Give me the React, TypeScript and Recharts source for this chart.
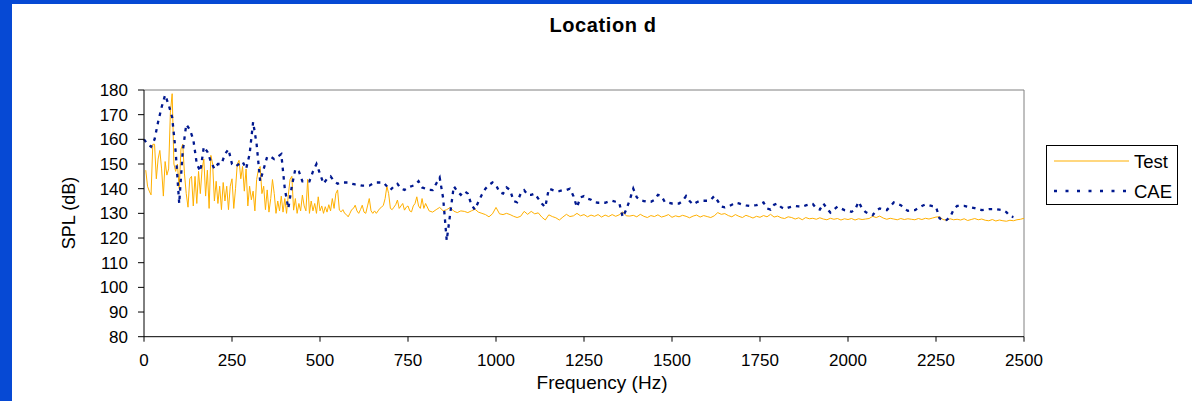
import { LineChart, Line, XAxis, YAxis, ReferenceLine } from 'recharts';

// Test: 5 Hz steps from 5 to 800 Hz, then 10 Hz steps from 810 to 2500 Hz
const testLow = [
    147.5, 141, 139, 137.5, 158, 158, 144, 152, 155.5, 148,
    137, 151, 145.5, 148, 171, 178.5, 150, 147, 150, 140,
    156, 158, 146, 138, 132.5, 144, 145, 133, 145, 134,
    147, 138, 148, 152, 137, 147.5, 132, 153.5, 150, 135,
    143, 134, 141, 131.5, 142.5, 135, 141, 131.5, 141, 144,
    132, 140, 150, 151.5, 144, 149, 139, 148, 133, 141,
    135.5, 139, 131, 143.7, 147.7, 149, 138, 141, 131.5, 139.5,
    130.5, 136, 143.7, 138, 130, 135, 131, 137, 130.5, 136,
    130, 137.5, 143.8, 145, 131.3, 136, 130, 134, 131, 137.4,
    133, 131, 143.8, 130, 135, 131, 134, 130, 136.7, 131,
    133, 130, 132.7, 130.5, 133.5, 131, 136, 132, 138, 139.5,
    131.3, 130.6, 131.5, 130, 129.5, 128.6, 130, 131.5, 132, 133.3,
    131, 130, 131.5, 133.3, 130.5, 130, 133, 136, 131, 130,
    131, 130, 131, 132, 132.5, 133.3, 136, 141, 138, 132,
    131.5, 132.5, 133.5, 135.4, 132, 133, 134, 131.3, 132.5, 133,
    131, 130.6, 133, 134, 136.7, 133, 132, 136, 132, 134,
];
const testHigh = [
    131, 130.5, 131.5, 132.4, 131, 131.5, 132.4, 130.9, 130.3, 131,
    130.8, 130.3, 131, 131.7, 130.5, 130, 129.5, 128.6, 129.8, 132.4,
    129.8, 129.5, 130, 129.5, 128.8, 128.3, 128.8, 130.8, 129.6, 130.8,
    129.8, 130.2, 128.5, 127.3, 129.4, 128.7, 128.2, 127.3, 128.5, 129.6,
    128.7, 129, 130, 129, 129.5, 128.6, 129.3, 128.8, 129.5, 128.5,
    129.3, 128.7, 129.5, 128.8, 129.4, 130.6, 129, 128.9, 129.2, 128.6,
    129.6, 128.8, 128.3, 129.1, 128.7, 129.4, 128.5, 128.9, 129.5, 128.4,
    129, 128.6, 129.2, 128.8, 128.2, 128.9, 129.3, 128.5, 129.1, 128.7,
    128.3, 129, 130.3, 129.6, 129.9, 129.1, 128.6, 129.5, 128.8, 128.3,
    129.2, 128.7, 128.1, 128.8, 128.4, 129.1, 128.6, 129.6, 128.5, 128.9,
    128.2, 127.9, 128.6, 128.3, 127.7, 128.2, 127.4, 128.3, 127.8, 128,
    127.6, 128.2, 127.7, 127.4, 128, 127.6, 127.9, 127.3, 127.8, 127.5,
    127.9, 127.3, 127.8, 127.5, 127.7, 127.9, 128.8, 128.3, 128.9, 128.1,
    127.6, 128, 127.7, 127.4, 127.9, 127.5, 127.8, 127.6, 127.4, 127.9,
    127.5, 128, 127.7, 128.1, 128.5, 128.6, 127.5, 127.2, 127.8, 127.4,
    127.6, 127.3, 127.8, 127.1, 127.5, 127.9, 127.4, 127.7, 127.2, 127,
    127.5, 126.9, 127.3, 127, 126.8, 127.2, 127, 127.4, 127.6, 128,
];

// CAE: 10 Hz steps from 0 to 2470 Hz
const cae = [
    160, 158, 157, 160, 167, 173, 178, 174, 169, 155,
    134, 155, 166, 164, 160, 150, 147, 157, 155, 151,
    148, 150, 150, 154, 156, 150, 149, 150, 151, 148,
    154, 167, 158, 143, 148, 153, 153, 152, 153, 154,
    140, 132, 141, 148, 147, 143, 143, 143, 147, 150,
    146, 142, 144, 145, 143, 142, 142.5, 142.5, 142.5, 142,
    141.7, 141.5, 141.2, 141.2, 141.2, 142, 142.5, 142.5, 142.5, 141,
    139.5, 141, 142, 140, 139.5, 140.5, 141, 141.5, 143, 140.5,
    140, 139.5, 139.4, 142, 144.5, 136, 119, 130, 141, 139,
    137.5, 139, 138, 133.5, 131.5, 134.7, 137.6, 140, 141.5, 142.5,
    141.5, 138.5, 138, 140.5, 139.5, 135, 134.5, 138, 139.4, 137.5,
    137.5, 138, 136, 134, 132.5, 140, 139.5, 139, 139, 139.4,
    139.5, 140, 137, 132.5, 136.5, 137, 136, 135.5, 134.5, 134.3,
    134.3, 134.3, 134.8, 135.1, 134.7, 134.3, 128.5, 131.5, 135.5, 140,
    136.5, 135.3, 135, 134.7, 134.7, 135.5, 137.5, 137, 134.5, 134.3,
    134, 134, 134, 135, 137, 135, 133.6, 134.5, 135.1, 135.1,
    135.1, 135.5, 137, 135, 132.8, 132.4, 132.8, 133.5, 134.3, 134,
    133.5, 133.2, 133, 133.2, 133.3, 133.8, 134.4, 132, 131.5, 133.5,
    134, 132.5, 131.8, 132.3, 132.7, 133, 132.8, 132.7, 133.2, 133.6,
    133.8, 132, 131.5, 134, 132, 130.3, 131.5, 132.7, 132, 131.3,
    131, 130.6, 131.5, 134.7, 132, 130.5, 129.8, 129.3, 131, 132,
    131.6, 131.3, 132.8, 134.4, 133.8, 133.3, 132, 131, 131.2, 131.3,
    132.2, 133, 133.6, 133.3, 132.9, 132.6, 128, 127, 127.3, 128.5,
    131.5, 133, 133, 133, 132.7, 132.4, 132.1, 131.7, 131.3, 131.5,
    131.7, 131.7, 131.7, 131.5, 131.3, 130.5, 128.9, 128.5,
];

const xTicks = [0, 250, 500, 750, 1000, 1250, 1500, 1750, 2000, 2250, 2500];
const yTicks = [80, 90, 100, 110, 120, 130, 140, 150, 160, 170, 180];

const testData = [
    ...testLow.map((v, i) => ({ f: 5 + i * 5, v })),
    ...testHigh.map((v, i) => ({ f: 810 + i * 10, v })),
];
const caeData = cae.map((v, i) => ({ f: i * 10, v }));

const FONT = '"Liberation Sans", Arial, sans-serif';
const TEST_COLOR = '#FFB000';
const CAE_COLOR = '#00188F';
const BLUE = '#0649D4';

export default function App() {
    return (
        <div style={{ position: 'absolute', left: 0, top: 0, width: 1192, height: 401, background: '#fff', fontFamily: FONT }}>
            <LineChart width={1192} height={401} margin={{ top: 90, right: 168, bottom: 0, left: 0 }}>
                <XAxis
                    type="number"
                    dataKey="f"
                    domain={[0, 2500]}
                    ticks={xTicks}
                    interval={0}
                    height={64.3}
                    tickSize={5}
                    tickMargin={12}
                    axisLine={{ stroke: '#000' }}
                    tickLine={{ stroke: '#000' }}
                    tick={{ fill: '#000', fontSize: 17, fontFamily: FONT }}
                />
                <YAxis
                    type="number"
                    domain={[80, 180]}
                    ticks={yTicks}
                    interval={0}
                    width={144}
                    tickSize={6}
                    tickMargin={10}
                    axisLine={{ stroke: '#000' }}
                    tickLine={{ stroke: '#000' }}
                    tick={{ fill: '#000', fontSize: 17, fontFamily: FONT }}
                />
                <ReferenceLine y={180} stroke="#808080" />
                <ReferenceLine x={2500} stroke="#808080" />
                <Line data={testData} dataKey="v" name="Test" type="linear" stroke={TEST_COLOR} strokeWidth={1} dot={false} isAnimationActive={false} />
                <Line data={caeData} dataKey="v" name="CAE" type="linear" stroke={CAE_COLOR} strokeWidth={2.3} strokeDasharray="3.5 5" dot={false} isAnimationActive={false} />
            </LineChart>

            {/* titles */}
            <svg width={1192} height={401} style={{ position: 'absolute', left: 0, top: 0, pointerEvents: 'none' }}>
                <text x={603} y={32} textAnchor="middle" fontSize={20} fontWeight="bold" letterSpacing={0.6} fill="#000" fontFamily={FONT}>Location d</text>
                <text x={602} y={389} textAnchor="middle" fontSize={19} fill="#000" fontFamily={FONT}>Frequency (Hz)</text>
                <text transform="translate(75, 213) rotate(-90)" textAnchor="middle" fontSize={18} fill="#000" fontFamily={FONT}>SPL (dB)</text>
            </svg>

            {/* legend */}
            <div style={{ position: 'absolute', left: 1046, top: 145, width: 130, height: 58, border: '1px solid #000', background: '#fff' }}>
                <svg width={130} height={58}>
                    <line x1={7} y1={15} x2={82} y2={15} stroke={TEST_COLOR} strokeWidth={1.2} />
                    <text x={87} y={21.5} fontSize={18.5} fill="#000" fontFamily={FONT}>Test</text>
                    <line x1={7} y1={45} x2={82} y2={45} stroke={CAE_COLOR} strokeWidth={2.3} strokeDasharray="3 8.5" />
                    <text x={87} y={51.5} fontSize={18.5} fill="#000" fontFamily={FONT}>CAE</text>
                </svg>
            </div>

            <div style={{ position: 'absolute', left: 0, top: 0, width: 12, height: 401, background: BLUE }} />
            <div style={{ position: 'absolute', left: 0, top: 0, width: 1192, height: 3.5, background: BLUE }} />
        </div>
    );
}
